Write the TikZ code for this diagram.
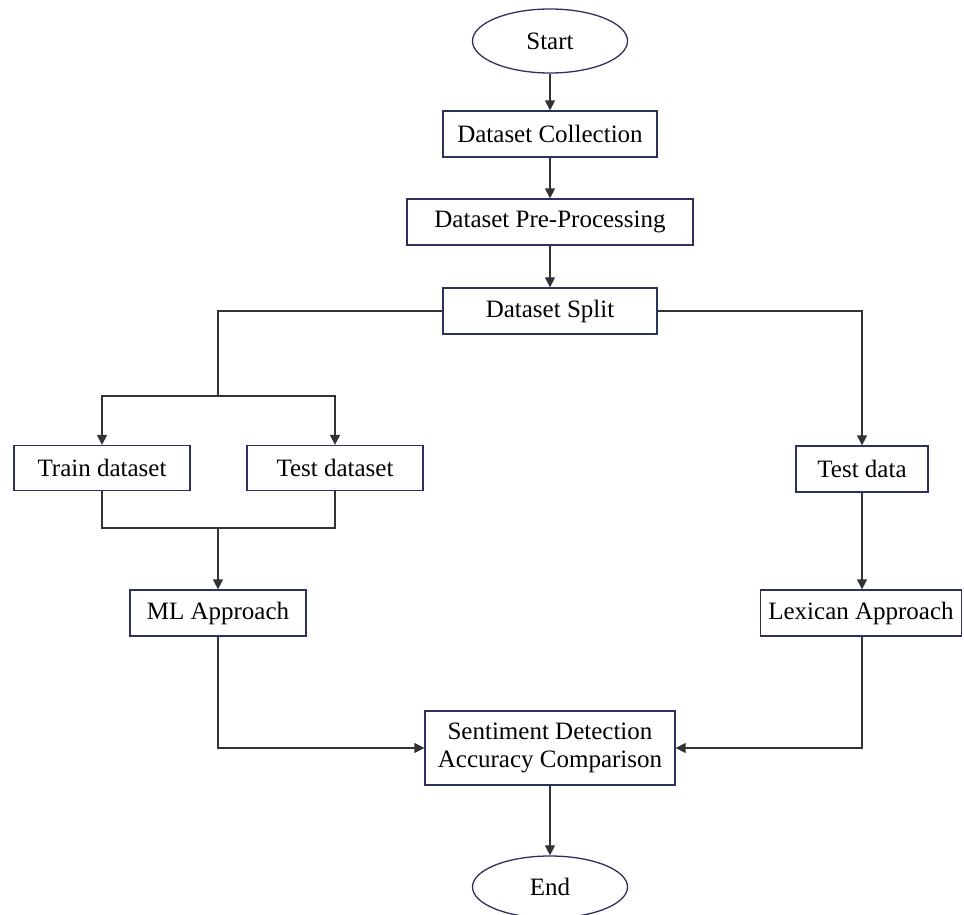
\documentclass[tikz,border=0pt]{standalone}
\usepackage{fontspec}
\setmainfont{Liberation Serif}
\usetikzlibrary{arrows.meta,shapes.geometric}
\definecolor{boxline}{HTML}{2E3160}
\definecolor{arrowc}{HTML}{333333}
\begin{document}
\begin{tikzpicture}[x=1pt,y=-1pt,
  every node/.style={font=\fontsize{25}{28}\selectfont},
  boxnode/.style={draw=boxline,line width=1.3pt,fill=white,inner sep=0pt,align=center},
  ovalnode/.style={draw=boxline,line width=1.3pt,ellipse,inner sep=0pt,minimum width=155pt,minimum height=64pt},
  conn/.style={draw=arrowc,line width=1.4pt},
  arr/.style={conn,-{Triangle[width=10pt,length=10pt]}}]
\useasboundingbox (0,0) rectangle (964,915);
\node[ovalnode] (start) at (550,41) {Start};
\node[boxnode,minimum width=214pt,minimum height=46pt] (coll) at (550,134) {Dataset Collection};
\node[boxnode,minimum width=286pt,minimum height=46pt] (pre) at (550,222) {Dataset Pre-Processing};
\node[boxnode,minimum width=214pt,minimum height=46pt] (split) at (550,311) {Dataset Split};
\node[boxnode,minimum width=176pt,minimum height=45pt] (train) at (102,468) {Train dataset};
\node[boxnode,minimum width=176pt,minimum height=45pt] (testds) at (335,468) {Test dataset};
\node[boxnode,minimum width=132pt,minimum height=46pt] (testd) at (862,469) {Test data};
\node[boxnode,minimum width=176pt,minimum height=46pt] (ml) at (218,613) {ML Approach};
\node[boxnode,minimum width=201pt,minimum height=46pt] (lex) at (861,613) {Lexican Approach};
\node[boxnode,minimum width=250pt,minimum height=74pt] (sent) at (550,748) {Sentiment Detection\\Accuracy Comparison};
\node[ovalnode,minimum height=62pt] (end) at (550,887) {End};
\coordinate (bl) at (218,396);
\coordinate (mg) at (218,528);
\draw[arr] (start) -- (coll);
\draw[arr] (coll) -- (pre);
\draw[arr] (pre) -- (split);
\draw[conn] (split.west) -| (bl);
\draw[arr] (bl) -| (train.north);
\draw[arr] (bl) -| (testds.north);
\draw[arr] (split.east) -| (testd.north);
\draw[conn] (train.south) |- (mg) -| (testds.south);
\draw[arr] (mg) -- (ml.north);
\draw[arr] (testd) -- (testd |- lex.north);
\draw[arr] (ml.south) |- (sent.west);
\draw[arr] (testd |- lex.south) |- (sent.east);
\draw[arr] (sent) -- (end);
\end{tikzpicture}
\end{document}
